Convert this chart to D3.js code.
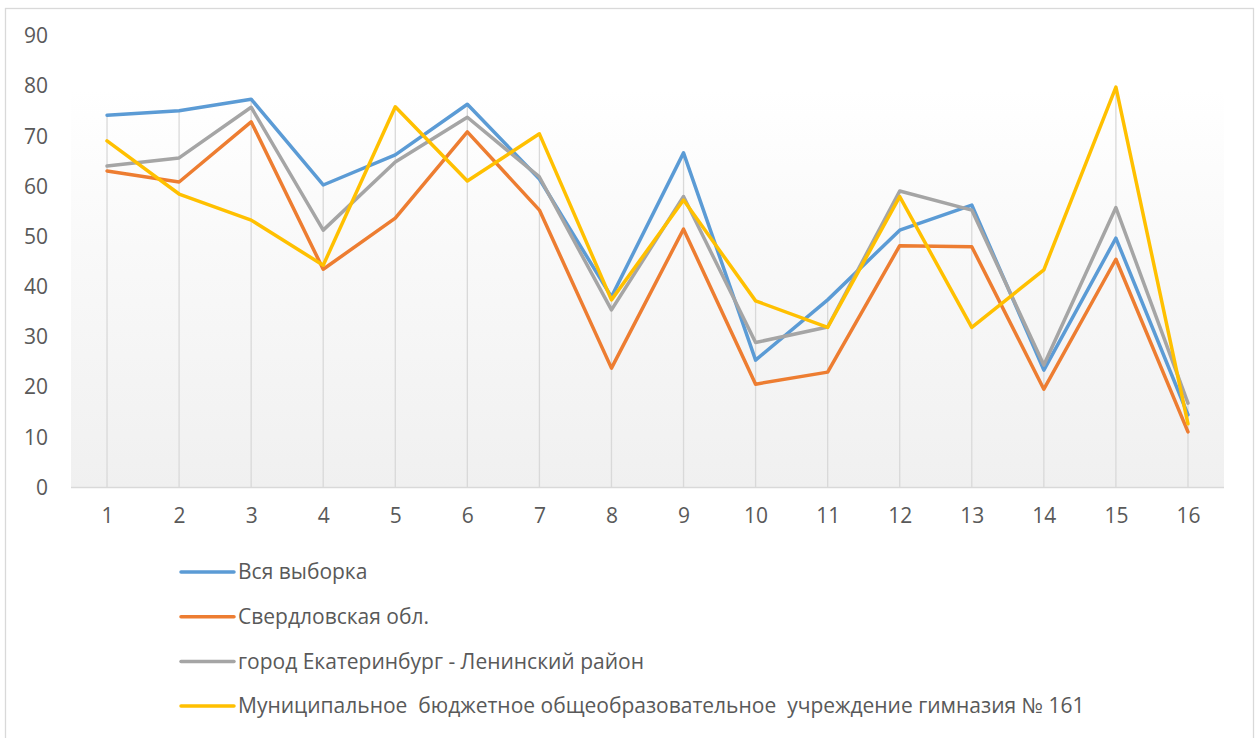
<!DOCTYPE html>
<html><head><meta charset="utf-8">
<script src="https://cdn.jsdelivr.net/npm/d3@7"></script>
<style>html,body{margin:0;padding:0;background:#fff;}svg{display:block;}</style>
</head><body>
<svg id="chart" width="1259" height="738"></svg>
<script>
const categories = ["1","2","3","4","5","6","7","8","9","10","11","12","13","14","15","16"];
const yTicks = [0,10,20,30,40,50,60,70,80,90];
const seriesNames = ["Вся выборка","Свердловская обл.","город Екатеринбург - Ленинский район","Муниципальное  бюджетное общеобразовательное  учреждение гимназия № 161"];
const allSample = [74.2,75.1,77.4,60.3,66.3,76.4,61.5,38.0,66.7,25.4,37.4,51.3,56.3,23.4,49.7,14.5];
const sverdlovsk = [63.1,60.9,72.9,43.5,53.7,70.9,55.3,23.8,51.5,20.6,23.0,48.2,48.0,19.6,45.5,11.1];
const ekbLenin = [64.1,65.7,75.8,51.3,64.9,73.8,61.9,35.4,58.0,28.9,32.0,59.1,55.3,24.4,55.8,16.8];
const gymnasium = [69.1,58.5,53.3,44.3,75.9,61.1,70.5,37.4,57.3,37.2,31.9,58.0,31.9,43.4,79.8,12.7];
const colors = ["#5b9bd5","#ed7d31","#a5a5a5","#ffc000"];
const seriesValues = [allSample, sverdlovsk, ekbLenin, gymnasium];

const svg = d3.select("#chart");
const font = "'Open Sans', 'DejaVu Sans', sans-serif";

// outer frame
svg.append("rect").attr("x",5.5).attr("y",8.5).attr("width",1248).attr("height",740)
  .attr("fill","#fff").attr("stroke","#d9d9d9").attr("stroke-width",1.3);

const plot = {left:71, right:1224, top:36, bottom:487.5};
const x = d3.scalePoint().domain(categories).range([plot.left, plot.right]).padding(0.5);
const y = d3.scaleLinear().domain([0,90]).range([plot.bottom, plot.top]);

const defs = svg.append("defs");
const grad = defs.append("linearGradient").attr("id","bg").attr("x1",0).attr("y1",0).attr("x2",0).attr("y2",1);
grad.append("stop").attr("offset","0%").attr("stop-color","#ffffff");
grad.append("stop").attr("offset","100%").attr("stop-color","#f0f0f0");
svg.append("rect").attr("x",plot.left).attr("y",89).attr("width",plot.right-plot.left)
  .attr("height",plot.bottom-89).attr("fill","url(#bg)");

// drop lines (from the highest series value at each category down to the axis)
const maxima = categories.map((c,i)=>d3.max(seriesValues, s=>s[i]));
svg.append("g").selectAll("line").data(categories).join("line")
  .attr("x1",d=>x(d)).attr("x2",d=>x(d)).attr("y1",(d,i)=>y(maxima[i])).attr("y2",plot.bottom)
  .attr("stroke","#d9d9d9").attr("stroke-width",1.3);

// x axis
const xAxis = svg.append("g").attr("transform",`translate(0,${plot.bottom})`)
  .call(d3.axisBottom(x).tickSize(0).tickPadding(21));
xAxis.select(".domain").attr("d",`M${plot.left},0H${plot.right}`).attr("stroke","#d9d9d9").attr("stroke-width",1.5);
xAxis.selectAll("text").attr("font-family",font).attr("font-size",21).attr("fill","#595959");

// y axis
const yAxis = svg.append("g").attr("transform",`translate(48,0)`)
  .call(d3.axisLeft(y).tickValues(yTicks).tickSize(0).tickPadding(0));
yAxis.select(".domain").remove();
yAxis.selectAll("text").attr("font-family",font).attr("font-size",21).attr("fill","#595959");

// lines
const line = d3.line().x((d,i)=>x(categories[i])).y(d=>y(d));
svg.append("g").selectAll("path").data(seriesValues).join("path")
  .attr("d",d=>line(d)).attr("fill","none").attr("stroke",(d,i)=>colors[i])
  .attr("stroke-width",3.5).attr("stroke-linejoin","round").attr("stroke-linecap","round");

// legend
const leg = svg.append("g").selectAll("g").data(seriesNames).join("g")
  .attr("transform",(d,i)=>`translate(181,${572+i*44.7})`);
leg.append("line").attr("x1",0).attr("x2",53).attr("y1",0).attr("y2",0)
  .attr("stroke",(d,i)=>colors[i]).attr("stroke-width",3.5).attr("stroke-linecap","round");
leg.append("text").attr("x",57).attr("y",0).attr("dy","0.35em").text(d=>d)
  .attr("font-family",font).attr("font-size",21).attr("fill","#595959").attr("xml:space","preserve")
  .style("white-space","pre");
</script>
</body></html>
